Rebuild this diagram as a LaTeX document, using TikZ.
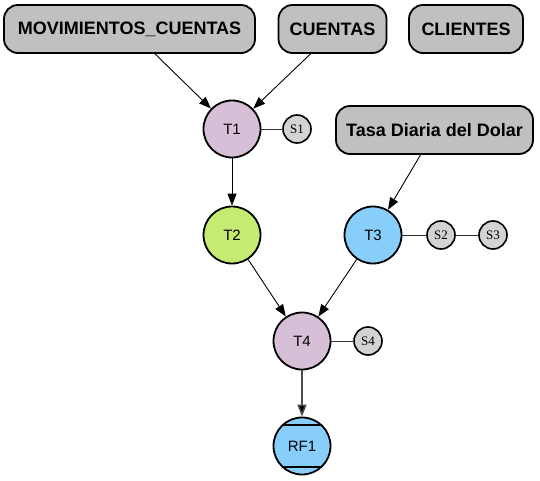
\documentclass[tikz,border=0pt]{standalone}
\usepackage{fontspec}
\setmainfont{Liberation Sans}
\newfontfamily\serifS{Liberation Serif}
\usetikzlibrary{arrows.meta,calc}
\definecolor{boxgray}{HTML}{C0C0C0}
\definecolor{pinkT}{HTML}{D8BFD8}
\definecolor{greenT}{HTML}{C6EB72}
\definecolor{blueT}{HTML}{87CEFA}
\definecolor{sgray}{HTML}{D3D3D3}
\tikzset{
  tbl/.style={draw=black, line width=1.8pt, fill=boxgray, rounded corners=14pt,
    minimum height=48pt, inner sep=0pt, font=\fontsize{18}{21}\selectfont\bfseries},
  tnode/.style={circle, draw=black, line width=1.8pt, minimum size=57pt, inner sep=0pt,
    font=\fontsize{15}{17}\selectfont},
  snode/.style={circle, draw=black, line width=1.6pt, fill=sgray, minimum size=28pt, inner sep=0pt,
    font=\serifS\fontsize{13}{14}\selectfont},
  flow/.style={line width=0.9pt, -{Triangle[length=12pt,width=9pt]}},
  slink/.style={line width=0.9pt, draw=black!80}
}
\begin{document}
\begin{tikzpicture}[x=1pt,y=-1pt]
\useasboundingbox (0,0) rectangle (540,481);
\node[tbl, minimum width=251pt] (mov) at (129.5,29) {MOVIMIENTOS\_CUENTAS};
\node[tbl, minimum width=108pt] (cue) at (332.5,29) {CUENTAS};
\node[tbl, minimum width=114pt] (cli) at (466,29) {CLIENTES};
\node[tbl, minimum width=197pt] (tasa) at (434.5,130) {Tasa Diaria del Dolar};

\node[tnode, fill=pinkT] (t1) at (232,129) {T1};
\node[tnode, fill=greenT] (t2) at (232,235) {T2};
\node[tnode, fill=blueT] (t3) at (373,235) {T3};
\node[tnode, fill=pinkT] (t4) at (302,341) {T4};
\node[tnode, fill=blueT] (rf1) at (302,446) {RF1};
\draw[line width=1.8pt] ($(rf1)+(-20,-21)$) -- ($(rf1)+(20,-21)$);
\draw[line width=1.8pt] ($(rf1)+(-20,21)$) -- ($(rf1)+(20,21)$);

\node[snode] (s1) at (297,129) {S1};
\node[snode] (s2) at (441,235) {S2};
\node[snode] (s3) at (493,235) {S3};
\node[snode] (s4) at (368,341) {S4};

\coordinate (movout) at ($(mov.south)+(25.5,0)$);
\coordinate (cueout) at ($(cue.south)+(-22,0)$);
\coordinate (tasaout) at ($(tasa.south)+(-14,0)$);

\draw[flow] (movout) -- (t1);
\draw[flow] (cueout) -- (t1);
\draw[flow] (tasaout) -- (t3);
\draw[flow] (t1) -- (t2);
\draw[flow] (t2) -- (t4);
\draw[flow] (t3) -- (t4);
\draw[flow, line width=1.5pt, draw=black!70, -{Triangle[length=12pt,width=9pt,fill=black]}] (t4) -- (rf1);

\draw[slink] (t1) -- (s1);
\draw[slink] (t3) -- (s2);
\draw[slink] (s2) -- (s3);
\draw[slink] (t4) -- (s4);
\end{tikzpicture}
\end{document}
